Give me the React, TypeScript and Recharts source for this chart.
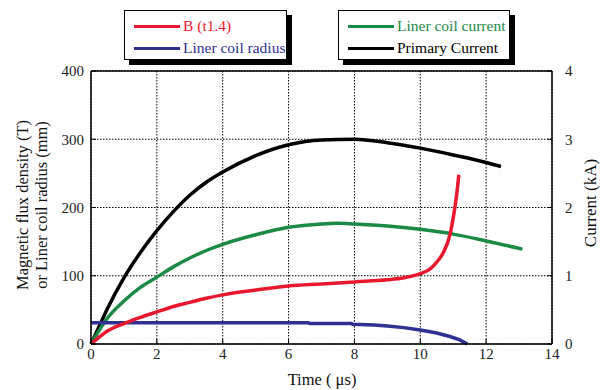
import React from 'react';
import { LineChart, Line, XAxis, YAxis, CartesianGrid, ReferenceLine } from 'recharts';

// Time axis ticks (μs) and value axis ticks
const timeTicks = [0, 2, 4, 6, 8, 10, 12, 14];
const leftTicks = [0, 100, 200, 300, 400];
const rightTicks = [0, 1, 2, 3, 4];

// Primary current (kA)
const primaryTime = [0, 0.25, 0.5, 1, 1.5, 2, 2.5, 3, 3.5, 4, 5, 6, 7, 8, 9, 10, 11, 12, 12.45];
const primaryCurrent = [0, 0.26, 0.52, 0.97, 1.34, 1.66, 1.94, 2.18, 2.37, 2.52, 2.76, 2.92, 2.99, 3.0, 2.95, 2.87, 2.77, 2.66, 2.6];

// Liner coil current (kA)
const linerCurrentTime = [0, 0.25, 0.5, 1, 1.5, 2, 2.5, 3, 3.5, 4, 5, 6, 7, 7.5, 8, 9, 10, 11, 12, 13.1];
const linerCurrent = [0, 0.2, 0.38, 0.63, 0.83, 0.98, 1.13, 1.26, 1.37, 1.46, 1.6, 1.71, 1.76, 1.77, 1.76, 1.73, 1.68, 1.61, 1.51, 1.39];

// Magnetic flux density B (T)
const fluxTime = [0, 0.25, 0.5, 1, 1.5, 2, 2.5, 3, 3.5, 4, 5, 6, 7, 8, 9, 9.5, 10, 10.3, 10.5, 10.7, 10.9, 11.05, 11.12, 11.17];
const fluxDensity = [0, 10, 19, 30, 39, 47, 55, 61, 67, 72, 79, 85, 88, 91, 94, 97, 103, 110, 120, 134, 160, 200, 225, 248];

// Liner coil radius (mm)
const radiusTime = [0, 6.6, 6.65, 7.9, 7.95, 8.6, 9, 9.5, 10, 10.5, 10.9, 11.2, 11.43];
const linerRadius = [31, 31, 30, 30, 29, 28, 26.5, 24, 20.5, 16, 11, 6, 0];

const RED = '#e8192e';
const BLUE = '#2e3192';
const GREEN = '#1b8a45';
const BLACK = '#000000';

const toPoints = (ts: number[], vs: number[]) => ts.map((t, i) => ({ t, v: vs[i] }));

const legendLeft = [
  { name: 'B (t1.4)', color: RED },
  { name: 'Liner coil radius', color: BLUE },
];
const legendRight = [
  { name: 'Liner coil current', color: GREEN },
  { name: 'Primary Current', color: BLACK },
];

const FONT = "'Liberation Serif', 'DejaVu Serif', Times, serif";
const tickStyle = { fontFamily: FONT, fontSize: 15, fill: '#222' };

function LegendBox({ left, width, items }: { left: number; width: number; items: { name: string; color: string }[] }) {
  return (
    <div
      style={{
        position: 'absolute',
        left,
        top: 10,
        width,
        height: 50,
        boxSizing: 'border-box',
        border: '1px solid #000',
        background: '#fff',
        boxShadow: '5px 5px 0 #000',
        fontFamily: FONT,
        fontSize: 15.5,
      }}
    >
      {items.map((it, i) => (
        <div key={it.name} style={{ position: 'absolute', left: 0, top: 15 + i * 22, width: '100%' }}>
          <div style={{ position: 'absolute', left: 9, top: -1.5, width: 46, height: 3, background: it.color }} />
          <div style={{ position: 'absolute', left: 58, top: -10, color: it.color, whiteSpace: 'nowrap', lineHeight: '20px' }}>
            {it.name}
          </div>
        </div>
      ))}
    </div>
  );
}

function Title({ x, y, text, rotate, size }: { x: number; y: number; text: string; rotate?: boolean; size: number }) {
  return (
    <div
      style={{
        position: 'absolute',
        left: x,
        top: y,
        transform: `translate(-50%, -50%)${rotate ? ' rotate(-90deg)' : ''}`,
        fontFamily: FONT,
        fontSize: size,
        color: '#111',
        whiteSpace: 'nowrap',
        lineHeight: 1,
      }}
    >
      {text}
    </div>
  );
}

export default function App() {
  return (
    <div style={{ position: 'absolute', left: 0, top: 0, width: 608, height: 390, background: '#fff', fontFamily: FONT }}>
      <LineChart width={608} height={390} margin={{ top: 71, right: 0, bottom: 0, left: 0 }} style={{ fontFamily: FONT }}>
        <CartesianGrid
          xAxisId="time"
          yAxisId="left"
          stroke="#000"
          strokeDasharray="1.5 1.5"
          strokeWidth={1}
        />
        <XAxis
          xAxisId="time"
          dataKey="t"
          type="number"
          domain={[0, 14]}
          ticks={timeTicks}
          allowDuplicatedCategory={false}
          height={46}
          axisLine={{ stroke: '#000', strokeWidth: 1.5 }}
          tickLine={{ stroke: '#000' }}
          tickSize={-5}
          tickMargin={9}
          tick={tickStyle}
        />
        <YAxis
          yAxisId="left"
          orientation="left"
          type="number"
          domain={[0, 400]}
          ticks={leftTicks}
          width={91}
          axisLine={{ stroke: '#000', strokeWidth: 1.5 }}
          tickLine={{ stroke: '#000' }}
          tickSize={-5}
          tickMargin={12}
          tick={tickStyle}
        />
        <YAxis
          yAxisId="right"
          orientation="right"
          type="number"
          domain={[0, 4]}
          ticks={rightTicks}
          width={56}
          axisLine={{ stroke: '#000', strokeWidth: 1.5 }}
          tickLine={{ stroke: '#000' }}
          tickSize={-5}
          tickMargin={18}
          tick={tickStyle}
        />
        <ReferenceLine xAxisId="time" yAxisId="left" y={400} stroke="#000" strokeWidth={1.5} />
        <Line
          xAxisId="time"
          yAxisId="right"
          data={toPoints(primaryTime, primaryCurrent)}
          dataKey="v"
          type="monotone"
          stroke={BLACK}
          strokeWidth={3.5}
          dot={false}
          isAnimationActive={false}
        />
        <Line
          xAxisId="time"
          yAxisId="right"
          data={toPoints(linerCurrentTime, linerCurrent)}
          dataKey="v"
          type="monotone"
          stroke={GREEN}
          strokeWidth={3.5}
          dot={false}
          isAnimationActive={false}
        />
        <Line
          xAxisId="time"
          yAxisId="left"
          data={toPoints(radiusTime, linerRadius)}
          dataKey="v"
          type="linear"
          stroke={BLUE}
          strokeWidth={3.5}
          dot={false}
          isAnimationActive={false}
        />
        <Line
          xAxisId="time"
          yAxisId="left"
          data={toPoints(fluxTime, fluxDensity)}
          dataKey="v"
          type="monotone"
          stroke={RED}
          strokeWidth={3.5}
          dot={false}
          isAnimationActive={false}
        />
      </LineChart>
      <LegendBox left={124} width={163} items={legendLeft} />
      <LegendBox left={338} width={172} items={legendRight} />
      <Title x={23} y={205} text="Magnetic flux density (T)" rotate size={16.5} />
      <Title x={42} y={205} text="or Liner coil radius (mm)" rotate size={16.5} />
      <Title x={590} y={203} text="Current (kA)" rotate size={17} />
      <Title x={322} y={380} text="Time ( μs)" size={16.5} />
    </div>
  );
}
